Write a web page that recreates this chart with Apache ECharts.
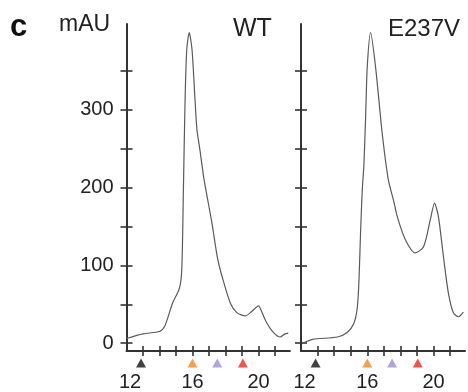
<!DOCTYPE html>
<html>
<head>
<meta charset="utf-8">
<script src="https://cdn.jsdelivr.net/npm/echarts@6/dist/echarts.min.js"></script>
<style>
html,body{margin:0;padding:0;background:#fff;}
#chart{width:468px;height:392px;}
</style>
</head>
<body>
<div id="chart"></div>
<script>
// Elution volume (mL) and absorbance (mAU)
var wtVolume = [12.0, 13.0, 14.0, 14.3, 14.8, 15.2, 15.35, 15.45, 15.55, 15.65, 15.8, 15.97, 16.15, 16.27, 16.45, 16.7, 17.18, 17.5, 17.8, 18.3, 18.7, 19.2, 19.6, 20.0, 20.2, 20.5, 20.9, 21.3, 21.6, 21.8];
var wtAbs    = [6, 12, 15, 21, 52, 70, 95, 200, 313, 377, 399, 377, 313, 274, 248, 210, 154, 111, 85, 51, 39, 35, 41, 48, 40, 26, 14, 8, 12, 13];
var mutVolume = [12.1, 12.7, 14.2, 14.8, 15.2, 15.4, 15.5, 15.6, 15.7, 15.8, 15.9, 16.0, 16.2, 16.5, 16.9, 17.27, 17.58, 17.82, 18.3, 18.9, 19.4, 19.8, 20.06, 20.3, 20.6, 20.9, 21.2, 21.5, 21.8];
var mutAbs    = [0, 5, 8, 14, 26, 46, 81, 145, 197, 230, 290, 355, 399, 355, 270, 210, 184, 162, 133, 116, 124, 158, 180, 162, 111, 64, 39, 34, 40];
// Size standards (elution volume, colour)
var markerVolume = [12.88, 16.0, 17.5, 19.05];
var markerColor = ['#111111', '#f7861f', '#a08ec6', '#ee2a1c'];
// Axis tick values
var yLabelValues = [0, 100, 200, 300];
var yTickValues = [0, 50, 100, 150, 200, 250, 300, 350];
var xLabelValues = [12, 16, 20];
var xTickValues = [13, 14, 15, 16, 17, 18, 19, 20, 21];
var panelTitles = ['WT', 'E237V'];

var FONT = '"Liberation Sans", Arial, sans-serif';
var AX = '#333';

function zip(a, b){ return a.map(function(v,i){ return [v, b[i]]; }); }

var grids = [
  {left: 126.5, top: 24, width: 163.4, height: 327},
  {left: 301, top: 24, width: 164, height: 327}
];

var xAxes = [], yAxes = [];
[0,1].forEach(function(g){
  xAxes.push({
    type:'value', gridIndex:g, position:'bottom', min:12, max:21.9,
    axisLine:{show:true, onZero:false, lineStyle:{color:AX, width:2}},
    axisTick:{show:false},
    axisLabel:{show:true, customValues:xLabelValues, margin:21, fontSize:20, color:'#222', fontFamily:FONT,
      formatter:function(v){ return v === 12 ? '{a|12}' : String(v); },
      rich:{a:{fontSize:20, color:'#222', fontFamily:FONT, padding:[0,0,0,7]}}},
    splitLine:{show:false}
  });
  xAxes.push({
    type:'value', gridIndex:g, position:'bottom', offset:5, min:12, max:21.9,
    axisLine:{show:false, onZero:false},
    axisTick:{show:true, inside:true, customValues:xTickValues, length:10, lineStyle:{color:AX, width:1.6}},
    axisLabel:{show:false}, splitLine:{show:false}
  });
  yAxes.push({
    type:'value', gridIndex:g, position:'left', min:-10, max:410,
    axisLine:{show:true, onZero:false, lineStyle:{color:AX, width:2}},
    axisTick:{show:true, customValues:yTickValues, length:6, lineStyle:{color:AX, width:1.6}},
    axisLabel:{show:g===0, customValues:yLabelValues, margin:13, fontSize:20, color:'#222', fontFamily:FONT},
    splitLine:{show:false}
  });
  yAxes.push({
    type:'value', gridIndex:g, position:'left', min:-10, max:410,
    axisLine:{show:false, onZero:false},
    axisTick:{show:true, inside:true, customValues:yTickValues, length:6, lineStyle:{color:AX, width:1.6}},
    axisLabel:{show:false}, splitLine:{show:false}
  });
});

var series = [];
var curves = [zip(wtVolume, wtAbs), zip(mutVolume, mutAbs)];
[0,1].forEach(function(g){
  series.push({
    type:'line', xAxisIndex:g*2, yAxisIndex:g*2, data:curves[g],
    smooth:0.25, showSymbol:false, symbol:'none',
    lineStyle:{color:'#5a5a5a', width:1.2}, silent:true
  });
  series.push({
    type:'scatter', xAxisIndex:g*2, yAxisIndex:g*2, clip:false,
    symbol:'triangle', symbolSize:[10,9],
    data: markerVolume.map(function(v,i){
      return {value:[v, -25.5], itemStyle:{color:markerColor[i]}};
    }),
    silent:true
  });
});

var chart = echarts.init(document.getElementById('chart'), null, {renderer:'canvas'});
chart.setOption({
  animation:false,
  backgroundColor:'#fff',
  grid: grids,
  xAxis: xAxes,
  yAxis: yAxes,
  series: series,
  graphic: [
    {type:'text', left:10, top:12, style:{text:'c', font:'bold 31px ' + FONT, fill:'#111'}},
    {type:'text', left:59, top:13, style:{text:'mAU', font:'23px ' + FONT, fill:'#222'}},
    {type:'text', left:233, top:17, style:{text:panelTitles[0], font:'25px ' + FONT, fill:'#222'}},
    {type:'text', left:388, top:17, style:{text:panelTitles[1], font:'24px ' + FONT, fill:'#222'}}
  ]
});
</script>
</body>
</html>
